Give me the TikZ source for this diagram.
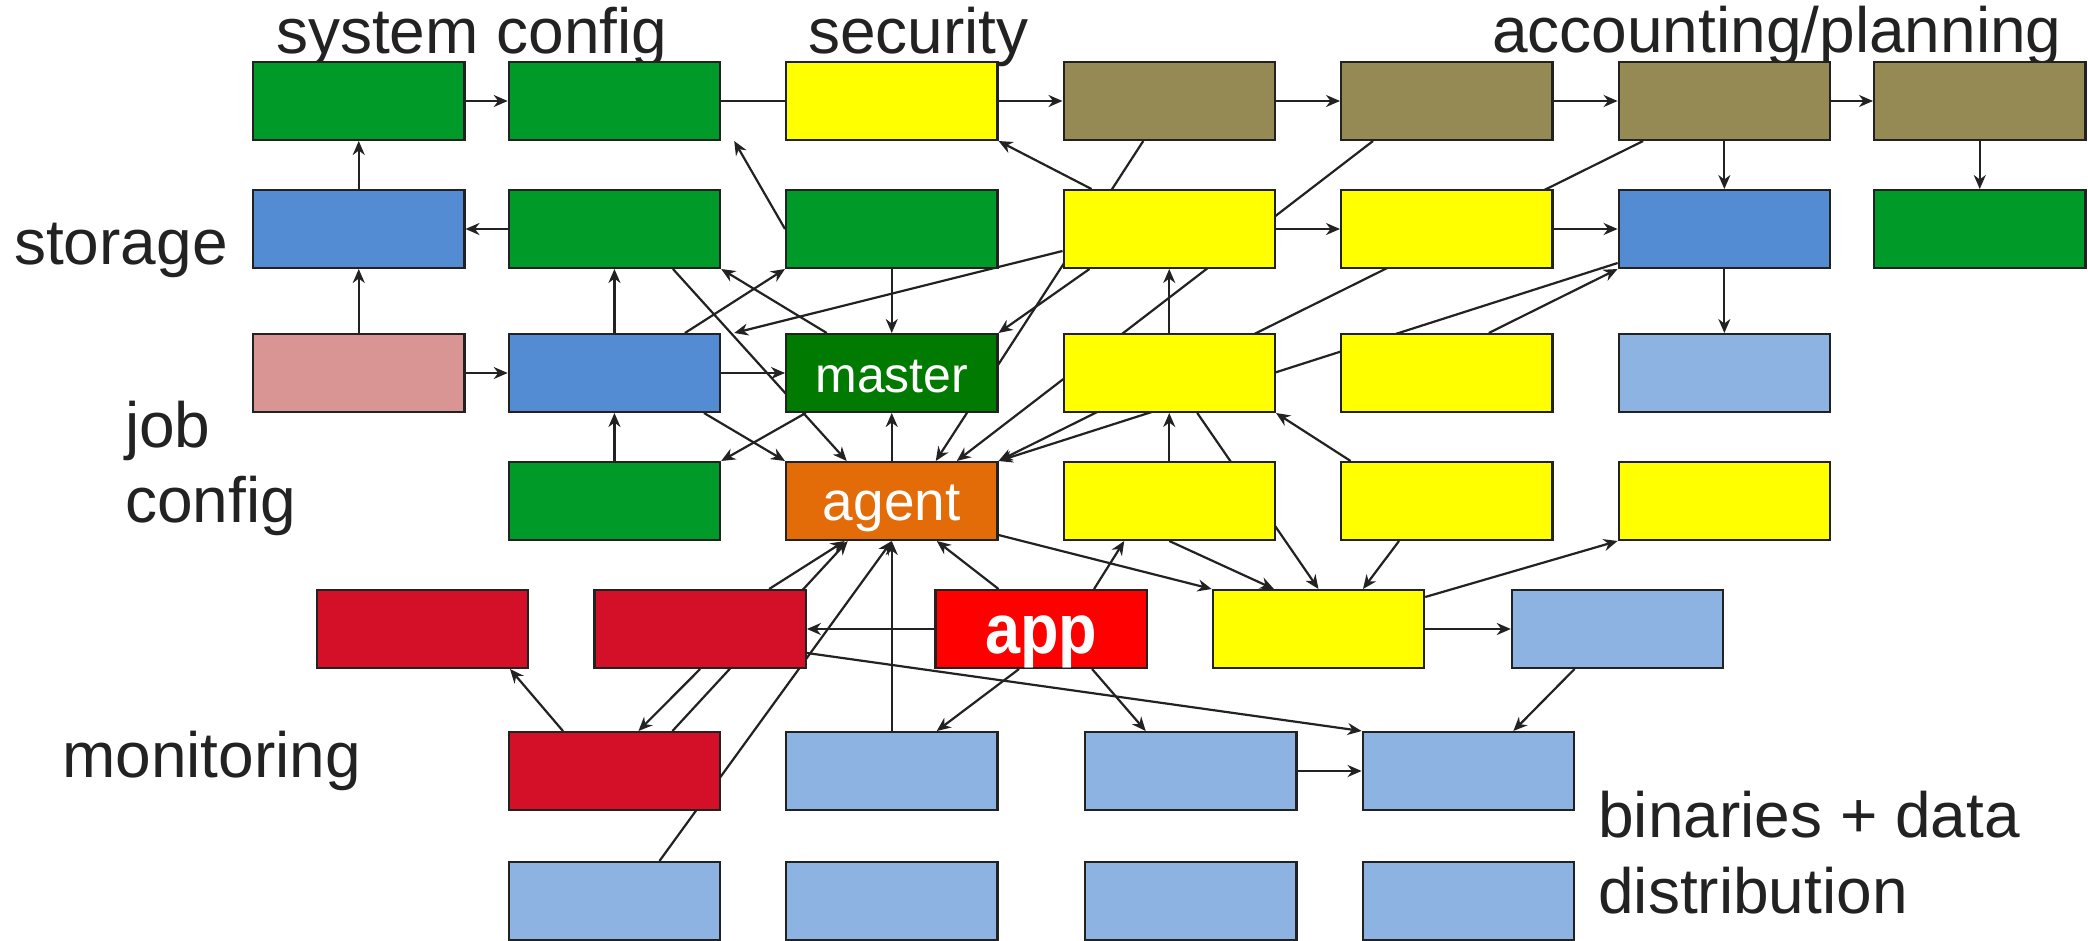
\documentclass[tikz,border=0pt]{standalone}
\usepackage{fontspec}
\usepackage{graphicx}
\setmainfont{Liberation Sans}
\usetikzlibrary{arrows.meta,calc,backgrounds}

\definecolor{inkc}{HTML}{222222}
\definecolor{grn}{HTML}{009A28}
\definecolor{dkgrn}{HTML}{007A00}
\definecolor{ylw}{HTML}{FFFF00}
\definecolor{olv}{HTML}{958A54}
\definecolor{blu}{HTML}{548CD4}
\definecolor{ltblu}{HTML}{8DB3E2}
\definecolor{pnk}{HTML}{D99594}
\definecolor{orng}{HTML}{E36C09}
\definecolor{crim}{HTML}{D41028}
\definecolor{appred}{HTML}{FF0000}

\tikzset{
  box/.style={draw=inkc, line width=2.2pt, outer sep=1.1pt, inner sep=0pt,
    minimum width=211.3pt, minimum height=77.8pt, anchor=north west,
    text=white, text height=45pt, text depth=7pt},
  conn/.style={draw=inkc, line width=2.2pt,
    -{Stealth[length=14pt,width=12pt,inset=4.5pt]}},
  heading/.style={inner sep=0pt, anchor=base west, text=inkc,
    font=\fontsize{64}{76}\selectfont},
}

\begin{document}
\begin{tikzpicture}[x=1pt,y=-1pt]
\useasboundingbox (0,0) rectangle (2088,941);

% ---- headings ----
\node[heading] (hSys)   at (276,54)  {system config};
\node[heading] (hSec)   at (808,54)  {security};
\node[heading] (hAcc)   at (1492,53) {accounting/planning};
\node[heading] (hSto)   at (14,265)  {storage};
\node[heading] (hJob)   at (125,447) {job};
\node[heading] (hCfg)   at (125,522) {config};
\node[heading] (hMon)   at (62,777)  {monitoring};
\node[heading] (hBin)   at (1598,837) {binaries + data};
\node[heading] (hDist)  at (1598,913) {distribution};

% ---- row 1 ----
\node[box, fill=grn] (A1) at (252,61)    {};
\node[box, fill=grn] (B1) at (507.7,61)  {};
\node[box, fill=ylw] (C1) at (785,61)    {};
\node[box, fill=olv] (D1) at (1062.5,61) {};
\node[box, fill=olv] (E1) at (1340,61)   {};
\node[box, fill=olv] (F1) at (1617.6,61) {};
\node[box, fill=olv] (G1) at (1873,61)   {};

% ---- row 2 ----
\node[box, fill=blu] (A2) at (252,189)    {};
\node[box, fill=grn] (B2) at (507.7,189)  {};
\node[box, fill=grn] (C2) at (785,189)    {};
\node[box, fill=ylw] (D2) at (1062.5,189) {};
\node[box, fill=ylw] (E2) at (1340,189)   {};
\node[box, fill=blu] (F2) at (1617.6,189) {};
\node[box, fill=grn] (G2) at (1873,189)   {};

% ---- row 3 ----
\node[box, fill=pnk]   (A3) at (252,333)    {};
\node[box, fill=blu]   (B3) at (507.7,333)  {};
\node[box, fill=dkgrn, font=\fontsize{50}{60}\selectfont] (C3) at (785,333) {master};
\node[box, fill=ylw]   (D3) at (1062.5,333) {};
\node[box, fill=ylw]   (E3) at (1340,333)   {};
\node[box, fill=ltblu] (F3) at (1617.6,333) {};

% ---- row 4 ----
\node[box, fill=grn]  (B4) at (507.7,461)  {};
\node[box, fill=orng, font=\fontsize{55}{66}\selectfont] (C4) at (785,461) {agent};
\node[box, fill=ylw]  (D4) at (1062.5,461) {};
\node[box, fill=ylw]  (E4) at (1340,461)   {};
\node[box, fill=ylw]  (F4) at (1617.6,461) {};

% ---- row 5 ----
\node[box, fill=crim]   (R1)  at (315.5,589)  {};
\node[box, fill=crim]   (R2)  at (593.4,589)  {};
\node[box, fill=appred, font=\fontsize{70}{80}\selectfont\bfseries] (app) at (934.3,589)
  {\raisebox{-5pt}{\scalebox{0.9}[1]{app}}};
\node[box, fill=ylw]    (Y5)  at (1211.7,589) {};
\node[box, fill=ltblu]  (L5)  at (1510.8,589) {};

% ---- row 6 ----
\node[box, fill=crim]  (M6)  at (507.7,731) {};
\node[box, fill=ltblu] (L6c) at (785,731)   {};
\node[box, fill=ltblu] (L6h) at (1084,731)  {};
\node[box, fill=ltblu] (L6i) at (1361.6,731) {};

% ---- row 7 ----
\node[box, fill=ltblu] (L7b) at (507.7,861) {};
\node[box, fill=ltblu] (L7c) at (785,861)   {};
\node[box, fill=ltblu] (L7h) at (1084,861)  {};
\node[box, fill=ltblu] (L7i) at (1361.6,861) {};

% ---- connectors, drawn behind the boxes ----
\begin{scope}[on background layer]
\fill[white] (0,0) rectangle (2088,941);

% top row chain
\draw[conn] (A1.east) -- (B1.west);
\draw[conn] (B1.east) -- (D1.west);
\draw[conn] (D1.east) -- (E1.west);
\draw[conn] (E1.east) -- (F1.west);
\draw[conn] (F1.east) -- (G1.west);

% left columns
\draw[conn] (A2.north) -- (A1.south);
\draw[conn] (A3.north) -- (A2.south);
\draw[conn] (B2.west) -- (A2.east);
\draw[conn] (B3.north) -- (B2.south);
\draw[conn] (B4.north) -- (B3.south);
\draw[conn] (A3.east) -- (B3.west);
\draw[conn] (B3.east) -- (C3.west);
\draw[conn] (C2.west) -- ($(B1.south east)+(13,0)$);
\draw[conn] ($(B3.north)+(70.5,0)$) -- (C2.south west);
\draw[conn] ($(C3.north)+(-65,0)$) -- (B2.south east);
\draw[conn] (C2.south) -- (C3.north);
\draw[conn] ($(C3.south)+(-86,0)$) -- (B4.north east);

% into the agent from above
\draw[conn] ($(B2.south)+(58.5,0)$) -- ($(C4.north)+(-45,0)$);
\draw[conn] ($(B3.south)+(89.5,0)$) -- (C4.north west);
\draw[conn] (C4.north) -- (C3.south);
\draw[conn] ($(D1.south)+(-26,0)$) -- ($(C4.north)+(44,0)$);
\draw[conn] ($(E1.south)+(-73.75,0)$) -- ($(C4.north)+(65,0)$);
\draw[conn] ($(F1.south west)+(25.5,0)$) -- (C4.north east);
\draw[conn] ($(F2.south west)+(0,-6)$) -- (C4.north east);

% security / yellow block
\draw[conn] ($(D2.west)+(0,22)$) -- ($(B3.north east)+(13,0)$);
\draw[conn] ($(D2.north west)+(29,0)$) -- (C1.south east);
\draw[conn] ($(D2.south west)+(27,0)$) -- (C3.north east);
\draw[conn] (D2.east) -- (E2.west);
\draw[conn] (E2.east) -- (F2.west);
\draw[conn] (F1.south) -- (F2.north);
\draw[conn] (G1.south) -- (G2.north);
\draw[conn] (F2.south) -- (F3.north);
\draw[conn] (D3.north) -- (D2.south);
\draw[conn] ($(E3.north)+(42,0)$) -- (F2.south west);
\draw[conn] ($(E4.north west)+(10.6,0)$) -- (D3.south east);
\draw[conn] (D4.north) -- (D3.south);

% into the central yellow box
\draw[conn] ($(D3.south)+(28,0)$) -- (Y5.north);
\draw[conn] (D4.south) -- ($(Y5.north)+(-44.5,0)$);
\draw[conn] ($(E4.south)+(-47.75,0)$) -- ($(Y5.north)+(44.5,0)$);
\draw[conn] ($(C4.east)+(0,34)$) -- (Y5.north west);
\draw[conn] ($(Y5.north east)+(0,8)$) -- (F4.south west);
\draw[conn] (Y5.east) -- (L5.west);

% around the app
\draw[conn] ($(app.north)+(53,0)$) -- ($(D4.south)+(-45,0)$);
\draw[conn] ($(app.north)+(-42.5,0)$) -- ($(C4.south)+(45,0)$);
\draw[conn] (app.west) -- (R2.east);
\draw[conn] ($(app.south)+(-22,0)$) -- ($(L6c.north)+(45,0)$);
\draw[conn] ($(app.south)+(51,0)$) -- ($(L6h.north)+(-45,0)$);

% monitoring and distribution
\draw[conn] ($(R2.east)+(0,24)$) -- (L6i.north west);
\draw[conn] ($(L5.south)+(-43,0)$) -- ($(L6i.north)+(45,0)$);
\draw[conn] (L6h.east) -- (L6i.west);
\draw[conn] ($(R2.north)+(69,0)$) -- ($(C4.south)+(-47,0)$);
\draw[conn] ($(M6.north)+(58,0)$) -- ($(C4.south)+(-44,0)$);
\draw[conn] (R2.south) -- ($(M6.north)+(24,0)$);
\draw[conn] ($(M6.north)+(-51.5,0)$) -- ($(R1.south east)+(-19,0)$);
\draw[conn] ($(L7b.north)+(45,0)$) -- (C4.south);
\draw[conn] (L6c.north) -- (C4.south);
\end{scope}
\end{tikzpicture}
\end{document}
